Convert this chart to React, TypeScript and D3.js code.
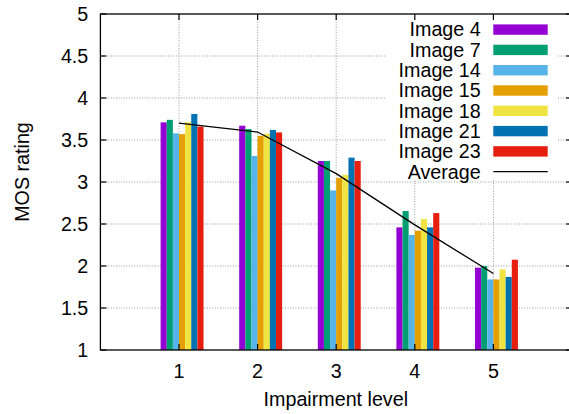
import React from "react";
import * as d3 from "d3";

const categories = [1, 2, 3, 4, 5];
const seriesNames = ["Image 4", "Image 7", "Image 14", "Image 15", "Image 18", "Image 21", "Image 23"];
const image4 = [3.71, 3.67, 3.25, 2.46, 1.98];
const image7 = [3.74, 3.63, 3.25, 2.655, 2.0];
const image14 = [3.58, 3.31, 2.9, 2.37, 1.84];
const image15 = [3.57, 3.55, 3.05, 2.42, 1.84];
const image18 = [3.71, 3.575, 3.085, 2.56, 1.96];
const image21 = [3.81, 3.62, 3.29, 2.46, 1.87];
const image23 = [3.66, 3.59, 3.25, 2.63, 2.075];
const average = [3.7, 3.595, 3.1, 2.49, 1.91];
const yTicks = [1, 1.5, 2, 2.5, 3, 3.5, 4, 4.5, 5];
const yTickLabels = ["1", "1.5", "2", "2.5", "3", "3.5", "4", "4.5", "5"];
const xTickLabels = ["1", "2", "3", "4", "5"];
const colors = ["#9400d3", "#009e73", "#56b4e9", "#e69f00", "#f0e442", "#0072b2", "#e51e10"];

const series = [image4, image7, image14, image15, image18, image21, image23];

const W = 569;
const H = 414;
const FONT = "'Liberation Sans', Arial, Helvetica, sans-serif";
const FS = 19.7;

export default function App() {
  const x = d3.scaleLinear().domain([0, 6]).range([100.4, 572]);
  const y = d3.scaleLinear().domain([1, 5]).range([350, 14]);
  const barW = 0.078;
  const left = x(0);
  const right = x(6);
  const top = y(5);
  const bottom = y(1);

  const line = d3
    .line<number>()
    .x((_, i) => x(categories[i]))
    .y((d) => y(d));

  const legX0 = 493.3;
  const legX1 = 547.7;
  const legTextX = 480.7;
  const legY0 = 29.6;
  const legStep = 20.3;

  return (
    <svg
      width={W}
      height={H}
      style={{ position: "absolute", left: 0, top: 0, background: "#fff" }}
      fontFamily={FONT}
      fontSize={FS}
    >
      <rect x={0} y={0} width={W} height={H} fill="#fff" />
      {/* grid */}
      <g stroke="#9a9a9a" strokeWidth={1} strokeDasharray="1,1.6">
        {yTicks.slice(1, -1).map((t) => (
          <line key={"gy" + t} x1={left} x2={right} y1={y(t)} y2={y(t)} />
        ))}
        {categories.map((c) => (
          <line key={"gx" + c} x1={x(c)} x2={x(c)} y1={top} y2={bottom} />
        ))}
      </g>
      {/* bars */}
      <g>
        {series.map((s, k) =>
          s.map((v, i) => (
            <rect
              key={"b" + k + "-" + i}
              x={x(categories[i] + (k - 3) * barW)}
              width={x(categories[i] + (k - 2) * barW) - x(categories[i] + (k - 3) * barW)}
              y={y(v)}
              height={y(1) - y(v)}
              fill={colors[k]}
            />
          ))
        )}
      </g>
      {/* average */}
      <path d={line(average) || ""} fill="none" stroke="#000" strokeWidth={1.3} />
      {/* legend box */}
      <rect x={386} y={15} width={172} height={165} fill="#fff" />
      {seriesNames.map((n, k) => (
        <g key={"l" + n}>
          <text x={legTextX} y={legY0 + k * legStep + 6.8} textAnchor="end" fill="#000">
            {n}
          </text>
          <rect x={legX0} y={legY0 + k * legStep - 5.2} width={legX1 - legX0} height={10.4} fill={colors[k]} />
        </g>
      ))}
      <text x={legTextX} y={legY0 + 7 * legStep + 6.8} textAnchor="end" fill="#000">
        Average
      </text>
      <line
        x1={legX0}
        x2={legX1}
        y1={legY0 + 7 * legStep}
        y2={legY0 + 7 * legStep}
        stroke="#000"
        strokeWidth={1.3}
      />
      {/* border */}
      <rect x={left} y={top} width={right - left} height={bottom - top} fill="none" stroke="#000" strokeWidth={1.3} />
      {/* ticks */}
      <g stroke="#000" strokeWidth={1.2}>
        {yTicks.map((t) => (
          <g key={"ty" + t}>
            <line x1={left} x2={left + 6} y1={y(t)} y2={y(t)} />
            <line x1={right} x2={right - 6} y1={y(t)} y2={y(t)} />
          </g>
        ))}
        {categories.map((c) => (
          <g key={"tx" + c}>
            <line x1={x(c)} x2={x(c)} y1={bottom} y2={bottom - 6} />
            <line x1={x(c)} x2={x(c)} y1={top} y2={top + 6} />
          </g>
        ))}
      </g>
      {/* tick labels */}
      {yTicks.map((t, i) => (
        <text key={"yl" + t} x={88.3} y={y(t) + 7} textAnchor="end" fill="#000">
          {yTickLabels[i]}
        </text>
      ))}
      {categories.map((c, i) => (
        <text key={"xl" + c} x={x(c)} y={378} textAnchor="middle" fill="#000">
          {xTickLabels[i]}
        </text>
      ))}
      <text x={335.8} y={406} textAnchor="middle" fill="#000">
        Impairment level
      </text>
      <text transform="translate(29,172) rotate(-90)" textAnchor="middle" fill="#000">
        MOS rating
      </text>
    </svg>
  );
}
